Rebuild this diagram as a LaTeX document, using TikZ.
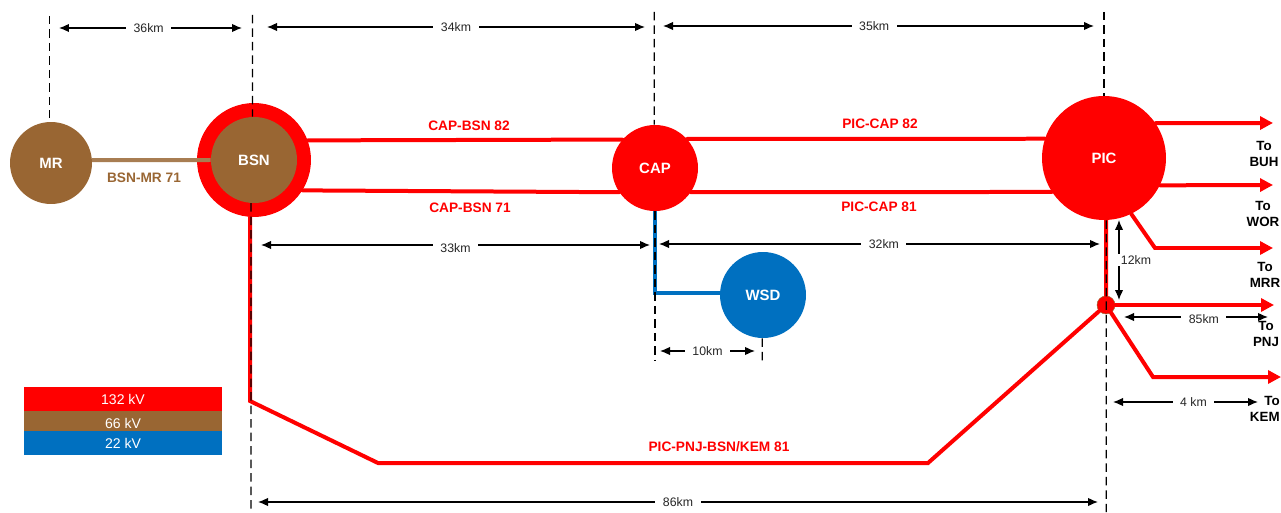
\documentclass[tikz,border=0pt]{standalone}
\usepackage{fontspec}
\setmainfont{Liberation Sans}
\usetikzlibrary{arrows.meta}

\definecolor{hvred}{HTML}{FF0000}
\definecolor{mvbrown}{HTML}{996633}
\definecolor{lvblue}{HTML}{0070C0}

\tikzset{
  station/.style={circle,inner sep=0pt,text=white,font=\fontsize{8.5}{10}\selectfont\bfseries},
  hvline/.style={draw=hvred,line width=0.08cm,line cap=round},
  feeder/.style={hvline,-{Triangle[length=0.26cm,width=0.26cm]}},
  guide/.style={draw=black,line width=0.026cm,dash pattern=on 0.17cm off 0.1cm},
  dimline/.style={draw=black,line width=0.024cm,{Latex[length=0.2cm,width=0.17cm]}-{Latex[length=0.2cm,width=0.17cm]}},
  dimlabel/.style={fill=white,inner xsep=0.15cm,inner ysep=1pt,text=black!85,font=\fontsize{7}{8.4}\selectfont},
  linename/.style={text=hvred,font=\fontsize{7.8}{9}\selectfont\bfseries},
  tolabel/.style={align=center,inner sep=0pt,font=\fontsize{7.6}{9.1}\selectfont\bfseries},
  legendbox/.style={rectangle,inner sep=0pt,minimum width=3.96cm,text=white,font=\fontsize{8}{9}\selectfont}
}

\begin{document}
\begin{tikzpicture}[x=0.02cm,y=-0.02cm]
  \useasboundingbox (0,0) rectangle (1281,513);

  % stations
  \node [station,fill=mvbrown,minimum size=1.64cm] (mr) at (51,163) {MR};
  \node [circle,fill=hvred,inner sep=0pt,minimum size=2.28cm] (bsnring) at (254,160) {};
  \node [station,fill=mvbrown,minimum size=1.72cm] (bsn) at (254,160) {BSN};
  \node [station,fill=hvred,minimum size=1.72cm] (cap) at (655,168) {CAP};
  \node [station,fill=hvred,minimum size=2.48cm] (pic) at (1104,158) {PIC};
  \node [station,fill=lvblue,minimum size=1.72cm] (wsd) at (763,295) {WSD};
  \node [circle,fill=hvred,draw=mvbrown,line width=0.01cm,inner sep=0pt,minimum size=0.36cm] (jun) at (1106,305) {};

  % legend
  \node [legendbox,fill=hvred,minimum height=0.48cm] (kv132) at (123,399) {132 kV};
  \node [legendbox,fill=mvbrown,minimum height=0.4cm] (kv66) at (123,421) {};
  \node [legendbox,fill=lvblue,minimum height=0.48cm] (kv22) at (123,443) {22 kV};
  \node [text=white,inner sep=0pt,font=\fontsize{8}{9}\selectfont] (kv66text) at (123,423) {66 kV};

  % lines between stations
  \draw [hvline] (bsnring.20) -- (cap.139);
  \draw [hvline] (cap.42) -- (pic.162);
  \draw [hvline] (bsnring.-32) -- (cap.214);
  \draw [hvline] (cap.-34) -- (pic.213);
  \draw [draw=mvbrown!85!white,line width=0.08cm] (mr.4) -- (bsn.180);
  \draw [draw=lvblue,line width=0.08cm] (cap.south) |- (wsd.178);

  \coordinate (loopa) at (250,401);
  \coordinate (loopb) at (378,463);
  \coordinate (loopc) at (928,463);
  \draw [hvline] (bsnring.-94) -- (loopa) -- (loopb) -- (loopc) -- (jun);
  \draw [hvline] (pic.-88) -- (jun);

  % feeders out of PIC
  \coordinate (buh) at (1273,123);
  \coordinate (wor) at (1273,185);
  \coordinate (mrrbend) at (1155,248);
  \coordinate (mrr) at (1273,248);
  \coordinate (pnj) at (1274,305);
  \coordinate (kembend) at (1153,377);
  \coordinate (kem) at (1281,377);
  \draw [feeder] (pic.34) -- (buh);
  \draw [feeder] (pic.-26) -- (wor);
  \draw [feeder] (pic.-64) -- (mrrbend) -- (mrr);
  \draw [feeder] (jun) -- (pnj);
  \draw [feeder] (jun) -- (kembend) -- (kem);

  % guides
  \coordinate (gmr) at (49.5,16);
  \coordinate (gmrb) at (49.5,118);
  \coordinate (gbsn) at (252.5,15);
  \coordinate (gbsnb) at (251,513);
  \coordinate (gcap) at (654.25,12);
  \coordinate (gcapb) at (655,360);
  \coordinate (gpic) at (1104,12);
  \coordinate (gpicb) at (1106.2,513);
  \coordinate (gwsd) at (762.25,361);
  \draw [guide] (gmr) -- (gmrb);
  \draw [guide] (gbsn) -- (bsn.92);
  \draw [guide] (bsn.-94) -- (gbsnb);
  \draw [guide] (gcap) -- (cap.91);
  \draw [guide] (cap.south) -- (gcapb);
  \draw [guide] (gpic) -- (pic.north);
  \draw [guide] (pic.-88) -- (gpicb);
  \draw [guide] (wsd.-91) -- (gwsd);

  % distances
  \coordinate (d36a) at (59,28);
  \coordinate (d36b) at (242,28);
  \coordinate (d34a) at (267,27);
  \coordinate (d34b) at (645,27);
  \coordinate (d35a) at (663,26);
  \coordinate (d35b) at (1094,26);
  \coordinate (d33a) at (261,245);
  \coordinate (d33b) at (650,245);
  \coordinate (d32a) at (659,244);
  \coordinate (d32b) at (1100,244);
  \coordinate (d12a) at (1119,220);
  \coordinate (d12b) at (1119,300);
  \coordinate (d85a) at (1124,317);
  \coordinate (d85b) at (1268,317);
  \coordinate (d4a) at (1113,402);
  \coordinate (d4b) at (1258,402);
  \coordinate (d10a) at (660,351);
  \coordinate (d10b) at (755,351);
  \coordinate (d86a) at (258,502);
  \coordinate (d86b) at (1098,502);
  \draw [dimline] (d36a) -- node[dimlabel,pos=0.49] (t36) {36km} (d36b);
  \draw [dimline] (d34a) -- node[dimlabel] (t34) {34km} (d34b);
  \draw [dimline] (d35a) -- node[dimlabel,pos=0.49] (t35) {35km} (d35b);
  \draw [dimline] (d33a) -- node[dimlabel,yshift=-0.06cm] (t33) {33km} (d33b);
  \draw [dimline] (d32a) -- node[dimlabel,pos=0.51] (t32) {32km} (d32b);
  \draw [dimline] (d12a) -- node[dimlabel,xshift=0.34cm,inner xsep=0.1cm] (t12) {12km} (d12b);
  \draw [dimline] (d85a) -- node[dimlabel,pos=0.555,yshift=-0.04cm] (t85) {85km} (d85b);
  \draw [dimline] (d4a) -- node[dimlabel,pos=0.555] (t4) {4 km} (d4b);
  \draw [dimline] (d10a) -- node[dimlabel] (t10) {10km} (d10b);
  \draw [dimline] (d86a) -- node[dimlabel] (t86) {86km} (d86b);

  % line names
  \node [linename] (capbsn82) at (469,126) {CAP-BSN 82};
  \node [linename] (capbsn71) at (470,208) {CAP-BSN 71};
  \node [linename] (piccap82) at (880,124) {PIC-CAP 82};
  \node [linename] (piccap81) at (879,207) {PIC-CAP 81};
  \node [linename,text=mvbrown] (bsnmr71) at (144,178) {BSN-MR 71};
  \node [linename] (picpnj81) at (719,447) {PIC-PNJ-BSN/KEM 81};

  % feeder names
  \node [tolabel] (tobuh) at (1264,154) {To\\BUH};
  \node [tolabel] (towor) at (1263,214) {To\\WOR};
  \node [tolabel] (tomrr) at (1265,275) {To\\MRR};
  \node [tolabel] (topnj) at (1266,334) {To\\PNJ};
  \node [tolabel,align=right,anchor=east] (tokem) at (1280,409) {To\\KEM};
\end{tikzpicture}
\end{document}
